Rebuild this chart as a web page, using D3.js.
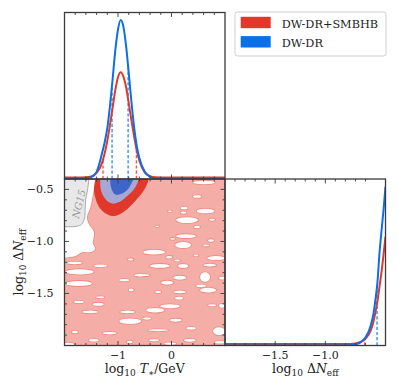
<!DOCTYPE html>
<html><head><meta charset="utf-8">
<script src="https://cdn.jsdelivr.net/npm/d3@7"></script>
<style>body{margin:0;background:#fff} svg{display:block} text{font-family:"DejaVu Serif",serif;fill:#222}</style>
</head><body><svg id="c" width="398" height="389"></svg>
<script>
// ---------- data ----------
const tGrid = [-2.0,-1.9,-1.8,-1.7,-1.6,-1.5,-1.4,-1.3,-1.25,-1.2,-1.15,-1.1,-1.05,-1.0,-0.95,-0.9,-0.85,-0.8,-0.75,-0.7,-0.65,-0.6,-0.5,-0.4,-0.3,-0.2,-0.1,0.0,0.2,0.4,0.6,0.8,1.0];
const tBlue = [0,0,0,0.001,0.004,0.012,0.045,0.16,0.23,0.32,0.46,0.63,0.81,0.94,1.0,0.96,0.84,0.67,0.49,0.33,0.21,0.13,0.045,0.013,0.004,0.001,0,0,0,0,0,0,0];
const tRed  = [0.01,0.01,0.01,0.01,0.011,0.016,0.038,0.10,0.16,0.24,0.34,0.45,0.56,0.64,0.671,0.645,0.58,0.48,0.37,0.27,0.18,0.115,0.042,0.018,0.011,0.01,0.01,0.01,0.01,0.01,0.01,0.01,0.01];
const nGrid = [-2.0,-1.8,-1.6,-1.4,-1.2,-1.0,-0.9,-0.8,-0.75,-0.7,-0.65,-0.6,-0.55,-0.52,-0.5,-0.48,-0.46,-0.44,-0.42,-0.4];
const nBlue = [0,0,0,0,0,0,0,0,0.002,0.007,0.02,0.05,0.12,0.2,0.29,0.4,0.58,0.72,0.85,1.0];
const nRed  = [0.01,0.01,0.01,0.01,0.01,0.01,0.01,0.01,0.01,0.013,0.022,0.042,0.09,0.15,0.21,0.28,0.37,0.46,0.57,0.685];
const tIntervalBlue = [-1.111,-0.811];
const tIntervalRed  = [-1.28,-0.656];
const nLimitBlue = -0.484;
const nLimitRed  = -0.607;
const tMajorTicks = [-1, 0];
const tTickLabels = ["\u22121", "0"];
const nMajorTicks = [-1.5, -1.0];
const nTickLabels = ["\u22121.5", "\u22121.0"];
const nYMajorTicks = [-0.5, -1.0, -1.5];
const nYTickLabels = ["\u22120.5", "\u22121.0", "\u22121.5"];
const legendLabels = ["DW-DR+SMBHB", "DW-DR"];
// 2D: regions [logT, logNeff]
const red68 = [[-1.426,-0.4],[-1.448,-0.516],[-1.36,-0.665],[-1.221,-0.735],[-1.109,-0.755],[-0.978,-0.74],[-0.829,-0.69],[-0.661,-0.602],[-0.512,-0.506],[-0.428,-0.4],[-0.45,-0.25],[-1.40,-0.25]];
const blue95 = [[-1.333,-0.4],[-1.314,-0.516],[-1.221,-0.602],[-1.109,-0.636],[-0.978,-0.622],[-0.829,-0.564],[-0.698,-0.496],[-0.614,-0.4],[-0.64,-0.28],[-1.31,-0.28]];
const blue68 = [[-1.146,-0.4],[-1.127,-0.487],[-1.053,-0.549],[-0.941,-0.544],[-0.829,-0.506],[-0.754,-0.448],[-0.717,-0.4],[-0.73,-0.32],[-1.13,-0.32]];
const whiteRegion = [[-2.4,-0.2],[-1.41,-0.2],[-1.42,-0.4],[-1.47,-0.554],[-1.52,-0.679],[-1.58,-0.766],[-1.545,-0.833],[-1.45,-0.91],[-1.47,-1.016],[-1.43,-1.074],[-1.52,-1.103],[-1.669,-1.103],[-1.8,-1.141],[-2.1,-1.16],[-2.4,-1.16]];
const ng15Region = [[-2.4,-0.2],[-1.545,-0.2],[-1.545,-0.4],[-1.57,-0.506],[-1.605,-0.602],[-1.615,-0.698],[-1.625,-0.775],[-1.68,-0.835],[-1.781,-0.855],[-2.1,-0.858],[-2.4,-0.858]];
const ng15Label = {t:-1.73, n:-0.64, text:"NG15"};
// white holes inside the red 95% region: [logT, logNeff, halfWidthT, halfHeightN]
const holes = [
[0.609,-0.434,0.205,0.016],[0.478,-0.568,0.075,0.012],[0.235,-0.679,0.065,0.012],[0.226,-0.724,0.056,0.011],
[0.637,-0.708,0.168,0.022],[-0.032,-0.711,0.037,0.009],[0.291,-0.795,0.205,0.028],[0.758,-0.792,0.056,0.009],
[-0.269,-0.855,0.037,0.009],[0.478,-0.862,0.056,0.012],[0.273,-0.949,0.187,0.019],[0.217,-1.035,0.149,0.029],
[0.021,-0.975,0.047,0.009],[0.739,-0.990,0.056,0.012],[0.646,-1.038,0.056,0.009],[-0.325,-1.103,0.205,0.022],
[-0.045,-1.151,0.056,0.012],[0.459,-1.134,0.047,0.009],[0.833,-1.160,0.168,0.019],[0.105,-1.183,0.056,0.009],
[-0.767,-1.173,0.056,0.010],[-1.809,-1.207,0.140,0.012],[-1.327,-1.234,0.125,0.013],[-1.716,-1.292,0.261,0.025],
[-1.731,-1.404,0.243,0.025],[-0.754,-1.466,0.047,0.013],[-1.731,-1.581,0.093,0.010],[-1.370,-1.603,0.103,0.015],
[-1.333,-1.536,0.075,0.009],[-1.520,-1.677,0.149,0.013],[-0.820,-1.677,0.140,0.013],[-0.773,-1.767,0.205,0.026],
[-1.805,-1.870,0.056,0.012],[-1.156,-1.882,0.131,0.012],[-1.451,-1.950,0.093,0.012],[-0.782,-1.966,0.056,0.012],
[-1.930,-1.988,0.112,0.015],[-0.586,-1.324,0.112,0.013],[-0.885,-1.372,0.093,0.010],[-0.218,-1.235,0.187,0.019],
[0.217,-1.237,0.093,0.019],[0.715,-1.228,0.121,0.013],[-0.474,-1.324,0.056,0.009],[0.155,-1.348,0.121,0.019],
[-0.082,-1.396,0.112,0.019],[0.627,-1.343,0.093,0.046],[0.683,-1.468,0.149,0.022],[0.553,-1.427,0.093,0.013],
[0.945,-1.353,0.056,0.013],[-0.250,-1.485,0.056,0.010],[0.155,-1.485,0.121,0.013],[0.142,-1.545,0.075,0.013],
[-0.306,-1.661,0.168,0.022],[-0.026,-1.622,0.187,0.019],[0.945,-1.618,0.056,0.019],[0.758,-1.613,0.075,0.010],
[0.077,-1.757,0.112,0.015],[-0.456,-1.741,0.075,0.010],[-0.250,-1.853,0.187,0.009],[0.366,-1.834,0.093,0.012],
[0.889,-1.863,0.112,0.038],[-0.325,-1.950,0.093,0.010],[0.342,-1.950,0.112,0.013],[-0.026,-1.983,0.112,0.012],
[0.907,-1.969,0.093,0.012]];

// ---------- layout / style ----------
const L=64.5, M=225, R=385.5, T=12.5, MY=179, B=345.5;
const RED="#e0392b", BLUE="#0a6fe8", SALMON="#f4aea7", HOLE_EDGE="#ee8a80", LAV="#a8a7d3", DBLUE="#3d66c6";
const svg = d3.select("#c");
const xT = d3.scaleLinear([-2,1],[L,M]);
const xN = d3.scaleLinear([-2,-0.4],[M,R]);
const yN = d3.scaleLinear([-2,-0.4],[B,MY]);
const yD1 = d3.scaleLinear([0,1.047],[MY,T]);
const yD2 = d3.scaleLinear([0,1.047],[B,MY]);

const defs = svg.append("defs");
function clip(id,x,y,w,h){defs.append("clipPath").attr("id",id).append("rect").attr("x",x).attr("y",y).attr("width",w).attr("height",h);}
clip("cTL",L,T,M-L,MY-T); clip("cBL",L,MY,M-L,B-MY); clip("cBR",M,MY,R-M,B-MY);

function interp(grid, vals, x){
  for(let i=0;i<grid.length-1;i++){ if(x>=grid[i]&&x<=grid[i+1]){const f=(x-grid[i])/(grid[i+1]-grid[i]);return vals[i]+f*(vals[i+1]-vals[i]);} }
  return 0;
}

// ---------- 2D panel ----------
const g2 = svg.append("g").attr("clip-path","url(#cBL)");
g2.append("rect").attr("x",L).attr("y",MY).attr("width",M-L).attr("height",B-MY).attr("fill",SALMON);
const areaLine = d3.line().x(d=>xT(d[0])).y(d=>yN(d[1])).curve(d3.curveCatmullRomClosed.alpha(0.5));
// outline layer
g2.append("path").attr("d",areaLine(whiteRegion)).attr("fill","none").attr("stroke",HOLE_EDGE).attr("stroke-width",1.6);
g2.selectAll("ellipse.o").data(holes).join("ellipse").attr("class","o")
  .attr("cx",d=>xT(d[0])).attr("cy",d=>yN(d[1]))
  .attr("rx",d=>xT(d[0]+d[2])-xT(d[0])).attr("ry",d=>yN(d[1])-yN(d[1]+d[3]))
  .attr("fill","none").attr("stroke",HOLE_EDGE).attr("stroke-width",1.6);
// fill layer
g2.append("path").attr("d",areaLine(whiteRegion)).attr("fill","#fff");
g2.selectAll("ellipse.f").data(holes).join("ellipse").attr("class","f")
  .attr("cx",d=>xT(d[0])).attr("cy",d=>yN(d[1]))
  .attr("rx",d=>xT(d[0]+d[2])-xT(d[0])).attr("ry",d=>yN(d[1])-yN(d[1]+d[3]))
  .attr("fill","#fff");
// NG15
g2.append("path").attr("d",areaLine(ng15Region)).attr("fill","#e8e8e8").attr("stroke","#a3a3a3").attr("stroke-width",0.9);
g2.append("text").attr("transform",`translate(${xT(ng15Label.t)},${yN(ng15Label.n)}) rotate(-76)`)
  .attr("text-anchor","middle").attr("dy","0.35em").style("font-size","10px").style("font-style","italic").style("fill","#9a9a9a").text(ng15Label.text);
// posterior contours
g2.append("path").attr("d",areaLine(red68)).attr("fill",RED);
g2.append("path").attr("d",areaLine(blue95)).attr("fill",LAV);
g2.append("path").attr("d",areaLine(blue68)).attr("fill",DBLUE);

// ---------- 1D panels ----------
const g1 = svg.append("g").attr("clip-path","url(#cTL)");
const lT = d3.line().x((d,i)=>xT(tGrid[i])).y(d=>yD1(d)).curve(d3.curveMonotoneX);
[[tIntervalRed,tRed,"#ea5a4d"],[tIntervalBlue,tBlue,"#3b8ff0"]].forEach(([iv,vals,c])=>{
  iv.forEach(x=>{ g1.append("line").attr("x1",xT(x)).attr("x2",xT(x)).attr("y1",yD1(0)).attr("y2",yD1(interp(tGrid,vals,x)))
    .attr("stroke",c).attr("stroke-width",1.4).attr("stroke-dasharray","3.2,2"); });
});
g1.append("path").attr("d",lT(tRed)).attr("fill","none").attr("stroke",RED).attr("stroke-width",2);
g1.append("path").attr("d",lT(tBlue)).attr("fill","none").attr("stroke",BLUE).attr("stroke-width",2);

const g3 = svg.append("g").attr("clip-path","url(#cBR)");
const lN = d3.line().x((d,i)=>xN(nGrid[i])).y(d=>yD2(d)).curve(d3.curveMonotoneX);
[[nLimitRed,nRed,"#ea5a4d"],[nLimitBlue,nBlue,"#3b8ff0"]].forEach(([x,vals,c])=>{
  g3.append("line").attr("x1",xN(x)).attr("x2",xN(x)).attr("y1",yD2(0)).attr("y2",yD2(interp(nGrid,vals,x)))
    .attr("stroke",c).attr("stroke-width",1.4).attr("stroke-dasharray","3.2,2");
});
g3.append("path").attr("d",lN(nRed)).attr("fill","none").attr("stroke",RED).attr("stroke-width",2);
g3.append("path").attr("d",lN(nBlue)).attr("fill","none").attr("stroke",BLUE).attr("stroke-width",2);

// ---------- frames & ticks ----------
const AX="#3a3a3a";
function frame(x0,y0,x1,y1){svg.append("rect").attr("x",x0).attr("y",y0).attr("width",x1-x0).attr("height",y1-y0).attr("fill","none").attr("stroke",AX).attr("stroke-width",1.3);}
function vticks(scale, vals, y0, y1, len){
  vals.forEach(v=>{const x=scale(v);
    svg.append("line").attr("x1",x).attr("x2",x).attr("y1",y1).attr("y2",y1-len).attr("stroke",AX).attr("stroke-width",0.9);
    svg.append("line").attr("x1",x).attr("x2",x).attr("y1",y0).attr("y2",y0+len).attr("stroke",AX).attr("stroke-width",0.9);});
}
function hticks(scale, vals, x0, x1, len){
  vals.forEach(v=>{const y=scale(v);
    svg.append("line").attr("y1",y).attr("y2",y).attr("x1",x0).attr("x2",x0+len).attr("stroke",AX).attr("stroke-width",0.9);
    svg.append("line").attr("y1",y).attr("y2",y).attr("x1",x1).attr("x2",x1-len).attr("stroke",AX).attr("stroke-width",0.9);});
}
const tMinor = d3.range(-18,10,2).map(v=>v/10).filter(v=>!tMajorTicks.includes(v));
const nMinor = d3.range(-19,-4,1).map(v=>v/10).filter(v=>!nMajorTicks.includes(v)&&!nYMajorTicks.includes(v));
vticks(xT,tMinor,T,MY,2.5); vticks(xT,tMajorTicks,T,MY,4.5);
vticks(xT,tMinor,MY,B,2.5); vticks(xT,tMajorTicks,MY,B,4.5);
hticks(yN,nMinor,L,M,2.5); hticks(yN,nYMajorTicks,L,M,4.5);
vticks(xN,nMinor,MY,B,2.5); vticks(xN,nMajorTicks,MY,B,4.5);
frame(L,T,M,MY); frame(L,MY,M,B); frame(M,MY,R,B);

// tick labels
const TF="11px";
tMajorTicks.forEach((v,i)=>svg.append("text").attr("x",xT(v)).attr("y",358.5).attr("text-anchor","middle").style("font-size",TF).text(tTickLabels[i]));
nMajorTicks.forEach((v,i)=>svg.append("text").attr("x",xN(v)).attr("y",358.5).attr("text-anchor","middle").style("font-size",TF).text(nTickLabels[i]));
nYMajorTicks.forEach((v,i)=>svg.append("text").attr("x",53.5).attr("y",yN(v)).attr("dy","0.36em").attr("text-anchor","end").style("font-size",TF).text(nYTickLabels[i]));

// axis labels
function logLabel(sel, rest){
  sel.style("font-size","12.5px");
  sel.append("tspan").text("log");
  sel.append("tspan").attr("dy",3).style("font-size","9px").text("10");
  sel.append("tspan").attr("dy",-3).text(" ");
  rest(sel);
}
logLabel(svg.append("text").attr("x",(L+M)/2).attr("y",372.5).attr("text-anchor","middle"), s=>{
  s.append("tspan").style("font-style","italic").text("T");
  s.append("tspan").attr("dy",3).style("font-size","9px").text("\u2217");
  s.append("tspan").attr("dy",-3).text("/GeV");
});
logLabel(svg.append("text").attr("x",(M+R)/2).attr("y",372.5).attr("text-anchor","middle"), s=>{
  s.append("tspan").text("\u0394");
  s.append("tspan").style("font-style","italic").text("N");
  s.append("tspan").attr("dy",3).style("font-size","9px").text("eff");
});
logLabel(svg.append("text").attr("transform",`translate(23,${(MY+B)/2}) rotate(-90)`).attr("text-anchor","middle"), s=>{
  s.append("tspan").text("\u0394");
  s.append("tspan").style("font-style","italic").text("N");
  s.append("tspan").attr("dy",3).style("font-size","9px").text("eff");
});

// legend
const lg = svg.append("g");
lg.append("rect").attr("x",235).attr("y",12).attr("width",151).attr("height",44).attr("rx",2.5).attr("fill","#fff").attr("stroke","#cfcfcf").attr("stroke-width",1);
[RED,BLUE].forEach((c,i)=>{
  lg.append("rect").attr("x",240.7).attr("y",16.8+i*19.3).attr("width",30).attr("height",11.4).attr("fill",c);
  lg.append("text").attr("x",281.7).attr("y",28+i*19.3).style("font-size","11.3px").text(legendLabels[i]);
});
</script></body></html>
